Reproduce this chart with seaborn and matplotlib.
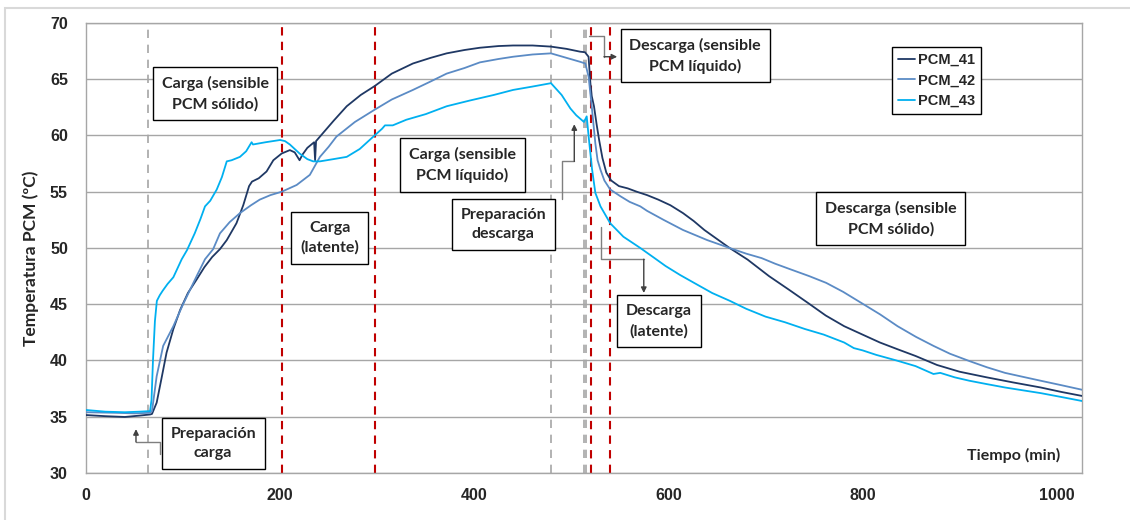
import numpy as np
import pandas as pd
import matplotlib
matplotlib.use("Agg")
import matplotlib.pyplot as plt
from matplotlib.ticker import MultipleLocator
from matplotlib.patches import Rectangle
import seaborn as sns

# valores (tiempo en min, temperatura en ºC)
t_41 = [0, 20, 40, 55, 66, 68, 72.8, 78, 83, 90, 97, 105, 114, 122, 130, 138, 145, 155, 162, 168,
        171, 178, 186, 193, 201.6, 210, 215, 220, 223, 228, 235, 236, 237, 241, 255, 268.6, 283,
        297.5, 315, 336.8, 355, 371.5, 390, 405.8, 425, 440, 460, 479, 495, 509, 514, 517.7,
        519.6, 521, 523.3, 526, 528.6, 532, 536, 541, 549, 558, 567.4, 578, 589.5, 602, 615, 626,
        637, 650, 663, 681.5, 703.6, 724, 744, 762, 781, 800, 817.8, 836, 854.6, 876.7, 900, 928,
        955, 983.5, 1005, 1026]
T_41 = [35.15, 35.05, 34.98, 35.1, 35.2, 35.25, 36.25, 38.5, 40.7, 42.8, 44.5, 46.0, 47.2, 48.3,
        49.2, 49.9, 50.7, 52.2, 53.8, 55.5, 55.9, 56.2, 56.8, 57.8, 58.4, 58.7, 58.5, 57.8, 58.3,
        58.9, 59.4, 57.8, 59.5, 59.9, 61.3, 62.6, 63.6, 64.4, 65.5, 66.4, 66.9, 67.3, 67.6, 67.8,
        67.95, 68.0, 68.0, 67.9, 67.7, 67.45, 67.4, 67.0, 64.65, 63.5, 62.6, 61.0, 59.6, 58.0,
        56.7, 56.0, 55.5, 55.3, 55.0, 54.7, 54.3, 53.8, 53.1, 52.4, 51.6, 50.8, 50.0, 48.97, 47.5,
        46.3, 45.1, 44.0, 43.05, 42.3, 41.6, 41.0, 40.4, 39.6, 39.0, 38.5, 38.05, 37.6, 37.2, 36.85]

t_42 = [0, 30, 50, 66, 68, 72.8, 79.5, 90, 100, 114, 122.6, 131, 138, 148, 158.6, 170, 179, 190,
        201.6, 217, 230.6, 241, 250, 258, 277, 297.5, 315, 336.8, 355, 371.5, 390, 405.8, 425, 440,
        460, 479, 495, 509, 514.4, 517.8, 521.3, 524.7, 527, 530, 534, 540, 550.5, 560, 571, 578,
        595, 615, 640, 663, 680, 696, 710, 725.8, 745, 762.5, 780, 799, 818, 836, 855, 873, 890,
        910, 928, 946.7, 965, 983.5, 1005, 1026]
T_42 = [35.4, 35.35, 35.3, 35.35, 35.5, 38.6, 41.3, 43.05, 45.0, 47.5, 49.0, 49.9, 51.3, 52.3,
        53.1, 53.8, 54.3, 54.7, 55.0, 55.6, 56.5, 58.1, 59.0, 59.9, 61.2, 62.3, 63.2, 64.05, 64.8,
        65.5, 66.0, 66.5, 66.8, 67.0, 67.2, 67.3, 66.9, 66.55, 66.4, 65.2, 62.3, 59.3, 57.8, 56.95,
        56.0, 55.2, 54.6, 54.1, 53.7, 53.3, 52.5, 51.6, 50.7, 50.0, 49.5, 49.1, 48.6, 48.1, 47.5,
        46.9, 46.1, 45.1, 44.1, 43.05, 42.1, 41.3, 40.6, 39.95, 39.4, 38.9, 38.55, 38.2, 37.8, 37.4]

t_43 = [0, 20, 40, 55, 66, 67.5, 69, 71, 73, 76, 79, 84, 90, 98.6, 104, 112, 118, 122.6, 128,
        134.7, 140, 145, 150, 158.6, 165, 170.6, 172, 185, 200, 205, 210, 215, 220, 228, 234, 241,
        255, 268.6, 282, 296, 305, 308, 316, 330, 350, 371.6, 395, 420, 440, 460, 479, 490, 499,
        505, 513, 515.8, 517.8, 519.5, 521.3, 524.7, 530, 540, 553.6, 571, 585.7, 597, 612, 626.4,
        645, 663.3, 680, 700, 720, 740.5, 760, 781, 791, 800, 814, 835, 854.6, 873, 880, 895, 910,
        928, 946.7, 965, 983.5, 1005, 1026]
T_43 = [35.6, 35.45, 35.4, 35.45, 35.5, 36.5, 40.0, 43.5, 45.3, 45.8, 46.2, 46.8, 47.4, 49.0,
        49.8, 51.3, 52.6, 53.7, 54.2, 55.2, 56.3, 57.7, 57.8, 58.1, 58.6, 59.4, 59.2, 59.4, 59.6,
        59.5, 59.2, 58.8, 58.4, 57.9, 57.7, 57.7, 57.9, 58.1, 58.8, 59.9, 60.6, 60.9, 60.9, 61.4,
        61.9, 62.6, 63.1, 63.6, 64.05, 64.35, 64.65, 63.6, 62.4, 61.8, 61.2, 61.7, 59.9, 58.5,
        57.0, 54.9, 53.7, 52.2, 51.0, 50.0, 49.1, 48.4, 47.6, 46.9, 46.0, 45.3, 44.6, 43.9, 43.4,
        42.8, 42.3, 41.6, 41.1, 40.9, 40.5, 40.0, 39.5, 38.8, 38.9, 38.5, 38.2, 37.9, 37.6, 37.35,
        37.1, 36.75, 36.4]

series = ["PCM_41", "PCM_42", "PCM_43"]
colores = ["#1F3864", "#5B8BC5", "#00B0F0"]

# fases del ensayo
lineas_grises = [64, 479, 513, 515.5]
lineas_rojas = [202, 298, 520.5, 540]

df = pd.concat([
    pd.DataFrame({"t": t_41, "T": T_41, "serie": "PCM_41"}),
    pd.DataFrame({"t": t_42, "T": T_42, "serie": "PCM_42"}),
    pd.DataFrame({"t": t_43, "T": T_43, "serie": "PCM_43"}),
], ignore_index=True)

sns.set_theme(style="white")
plt.rcParams["font.family"] = ["Liberation Sans", "DejaVu Sans"]

fig = plt.figure(figsize=(11.3, 5.2), dpi=100)
ax = fig.add_axes([0.0761, 0.0904, 0.8814, 0.8654])

# borde exterior del grafico
fig.patches.append(Rectangle((5 / 1130, -0.05), 1.2, (512 / 520) + 0.05, transform=fig.transFigure,
                             fill=False, edgecolor="#D9D9D9", linewidth=1.5, zorder=0))

for x in lineas_grises:
    ax.axvline(x, color="#A6A6A6", linestyle=(0, (5, 4)), linewidth=1.2, zorder=1)
for x in lineas_rojas:
    ax.axvline(x, color="#C00000", linestyle=(0, (4, 3)), linewidth=1.5, zorder=1)

sns.lineplot(data=df, x="t", y="T", hue="serie", palette=dict(zip(series, colores)),
             estimator=None, sort=False, linewidth=1.3, ax=ax, zorder=3)

ax.set_xlim(0, 1026)
ax.set_ylim(30, 70)
ax.xaxis.set_major_locator(MultipleLocator(200))
ax.xaxis.set_minor_locator(MultipleLocator(10))
ax.yaxis.set_major_locator(MultipleLocator(5))
ax.yaxis.set_minor_locator(MultipleLocator(0.5))
ax.grid(axis="y", which="major", color="#A6A6A6", linewidth=1.0)
ax.grid(axis="x", visible=False)
for s in ax.spines.values():
    s.set_color("#A6A6A6")
    s.set_linewidth(1.0)
ax.tick_params(axis="both", which="major", length=4, width=1, color="#A6A6A6",
               labelsize=11.5, pad=5, direction="out")
ax.tick_params(axis="both", which="minor", length=3, width=1, color="#A6A6A6", direction="out")
ax.tick_params(axis="y", which="major", pad=9)
ax.tick_params(axis="x", which="major", pad=7)
for lab in ax.get_xticklabels() + ax.get_yticklabels():
    lab.set_fontweight("bold")

ax.set_xlabel("")
ax.set_ylabel("Temperatura PCM (ºC)", fontsize=12.5, fontweight="bold", family="Lato")
ax.yaxis.set_label_coords(-0.047, 0.476)
ax.text(1004, 31.6, "Tiempo (min)", ha="right", va="center", fontsize=11.5,
        fontweight="bold", family="Lato")

leg = ax.legend(loc="upper left", bbox_to_anchor=(0.809, 0.947), frameon=True, fancybox=False,
                edgecolor="black", framealpha=1, handlelength=1.2, handletextpad=0.2,
                labelspacing=0.45, borderpad=0.4, borderaxespad=0,
                prop={"family": "Liberation Sans", "weight": "bold", "size": 10.5})
leg.get_frame().set_linewidth(1.0)
leg.set_zorder(6)

# cuadros de texto de las fases
cuadros = [
    (133, 63.7, "Carga (sensible\nPCM sólido)"),
    (251, 50.9, "Carga\n(latente)"),
    (387.6, 57.4, "Carga (sensible\nPCM líquido)"),
    (430, 52.1, "Preparación\ndescarga"),
    (131, 32.6, "Preparación\ncarga"),
    (627.5, 67.1, "Descarga (sensible\nPCM líquido)"),
    (829, 52.6, "Descarga (sensible\nPCM sólido)"),
    (590, 43.5, "Descarga\n(latente)"),
]
for x, y, txt in cuadros:
    ax.text(x, y, txt, ha="center", va="center", fontsize=11.5, fontweight="bold",
            family="Lato", linespacing=1.5, zorder=5,
            bbox=dict(boxstyle="square,pad=0.55", facecolor="white", edgecolor="black",
                      linewidth=1.0))

# conectores en angulo
conectores = [
    [(76, 31.7), (76, 32.76), (51.5, 32.76), (51.5, 33.9)],
    [(490.4, 54.35), (490.4, 57.7), (503, 57.7), (503, 61.0)],
    [(517.7, 68.85), (533.6, 68.85), (533.6, 67.0), (547.2, 67.0)],
    [(531, 51.9), (531, 49.0), (574.6, 49.0), (574.6, 46.0)],
]
for ruta in conectores:
    xs = [p[0] for p in ruta]
    ys = [p[1] for p in ruta]
    ax.plot(xs[:-1], ys[:-1], color="#7F7F7F", linewidth=1.0, zorder=4)
    ax.annotate("", xy=ruta[-1], xytext=ruta[-2],
                arrowprops=dict(arrowstyle="-|>", color="#404040", lw=1.0,
                                mutation_scale=8, shrinkA=0, shrinkB=0), zorder=4)

fig.savefig("out.png", dpi=100)
